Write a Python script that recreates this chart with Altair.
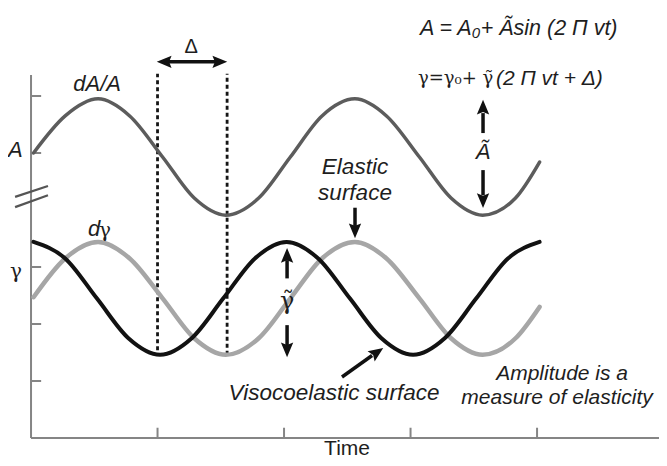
import altair as alt
import pandas as pd

# ---------------- data (time in x-tick units, value in y-tick units) ----------------
t_elastic = [0.02, 0.27, 0.53, 0.78, 1.04, 1.29, 1.54, 1.80, 2.05, 2.30, 2.56, 2.81,
             3.07, 3.32, 3.57, 3.83, 4.02]
dA_A = [5.00, 5.65, 5.95, 5.65, 4.93, 4.21, 3.91, 4.21, 4.93, 5.65, 5.95, 5.65,
        4.93, 4.21, 3.91, 4.21, 4.84]
d_gamma = [2.47, 3.15, 3.44, 3.15, 2.45, 1.75, 1.46, 1.75, 2.45, 3.15, 3.44, 3.15,
           2.45, 1.75, 1.46, 1.75, 2.30]

t_visco = [0.02, 0.27, 0.52, 0.77, 1.02, 1.27, 1.52, 1.77, 2.02, 2.27, 2.52, 2.77,
           3.02, 3.27, 3.52, 3.77, 4.02]
gamma_visco = [3.44, 3.15, 2.45, 1.75, 1.46, 1.75, 2.45, 3.15, 3.44, 3.15, 2.45, 1.75,
               1.46, 1.75, 2.45, 3.15, 3.44]

x_ticks = [1, 2, 3, 4]
y_ticks = [1, 2, 3, 5, 6]
delta_lines = [1.0, 1.55]

X_DOMAIN = [-0.182, 4.964]
Y_DOMAIN = [-0.351, 7.544]
W, H = 651, 450

xs = alt.Scale(domain=X_DOMAIN, nice=False, zero=False)
ys = alt.Scale(domain=Y_DOMAIN, nice=False, zero=False)


def X(f="x"):
    return alt.X(f"{f}:Q", scale=xs, axis=None)


def Y(f="y"):
    return alt.Y(f"{f}:Q", scale=ys, axis=None)


def rules(df, color, width, dash=None):
    kw = dict(color=color, strokeWidth=width, strokeCap="butt")
    if dash:
        kw["strokeDash"] = dash
    return alt.Chart(df).mark_rule(**kw).encode(
        x=X("x"), x2="x2:Q", y=Y("y"), y2="y2:Q")


def curve(t, v, color, width):
    df = pd.DataFrame({"x": t, "y": v})
    return alt.Chart(df).mark_line(color=color, strokeWidth=width,
                                   interpolate="monotone", strokeCap="round").encode(
        x=X(), y=Y())


def texts(df, size, style="normal", font="Liberation Sans", align="center",
          color="#1e1e1e"):
    return alt.Chart(df).mark_text(font=font, fontSize=size,
                                   fontStyle=style, color=color,
                                   align=align, baseline="middle").encode(
        x=X(), y=Y(), text="text:N")


AX = "#858585"
axes_df = pd.DataFrame({"x": [0, 0], "x2": [0, 4.964], "y": [0, 0], "y2": [6.37, 0]})
ticks_df = pd.DataFrame({
    "x": x_ticks + [0] * len(y_ticks),
    "x2": x_ticks + [0.08] * len(y_ticks),
    "y": [0] * len(x_ticks) + y_ticks,
    "y2": [0.18] * len(x_ticks) + y_ticks,
})
break_df = pd.DataFrame({"x": [-0.126, -0.126], "x2": [0.134, 0.134],
                         "y": [4.23, 4.05], "y2": [4.42, 4.26]})
dash_df = pd.DataFrame({"x": delta_lines, "x2": delta_lines,
                        "y": [1.54, 1.46], "y2": [6.39, 6.39]})

shafts_df = pd.DataFrame({
    "x":  [1.06, 3.573, 3.573, 2.024, 2.024, 2.561, 2.458],
    "x2": [1.49, 3.573, 3.573, 2.024, 2.024, 2.561, 2.696],
    "y":  [6.60, 5.35, 4.70, 2.80, 1.98, 4.04, 1.070],
    "y2": [6.60, 5.70, 4.26, 3.12, 1.63, 3.72, 1.447],
})
ARROW = "M0,-1L0.75,0.8L0,0.5L-0.75,0.8Z"
heads_df = pd.DataFrame({
    "x": [1.059, 1.486, 3.573, 3.573, 2.024, 2.024, 2.561, 2.731],
    "y": [6.60, 6.60, 5.79, 4.18, 3.19, 1.56, 3.65, 1.498],
    "angle": [270, 90, 0, 180, 0, 180, 180, 55],
})
heads = alt.Chart(heads_df).mark_point(shape=ARROW, filled=True, color="#111111",
                                       size=270, opacity=1, strokeWidth=0).encode(
    x=X(), y=Y(), angle=alt.Angle("angle:Q", scale=None))

italic_big = pd.DataFrame({
    "x": [2.561, 2.561, 2.395],
    "y": [4.75, 4.30, 0.79],
    "text": ["Elastic", "surface", "Visocoelastic surface"],
})
amplitude = pd.DataFrame({
    "x": [4.198, 4.158],
    "y": [1.13, 0.70],
    "text": ["Amplitude is a", "measure of elasticity"],
})
italic_mid = pd.DataFrame({
    "x": [0.522, -0.123, 3.573, 0.498],
    "y": [6.21, 5.05, 5.02, 3.67],
    "text": ["dA/A", "A", "Ã", "d"],
})
greek = pd.DataFrame({
    "x": [0.585, -0.119],
    "y": [3.64, 2.91],
    "text": ["γ", "γ"],
})
gamma_amp = pd.DataFrame({"x": [2.024], "y": [2.38], "text": ["γ̃"]})
formula_a = pd.DataFrame({"x": [3.075], "y": [7.175], "text": ["A = A₀+ Ãsin (2 Π vt)"]})
formula_g1 = pd.DataFrame({"x": [3.059], "y": [6.30], "text": ["γ=γ₀+ γ̃"]})
formula_g2 = pd.DataFrame({"x": [3.675], "y": [6.30], "text": ["(2 Π vt + Δ)"]})
delta_lbl = pd.DataFrame({"x": [1.265], "y": [6.86], "text": ["Δ"]})
time_lbl = pd.DataFrame({"x": [2.498], "y": [-0.19], "text": ["Time"]})

layers = [
    rules(axes_df, AX, 2),
    rules(ticks_df, AX, 2),
    rules(break_df, "#555555", 2.2),
    rules(dash_df, "#151515", 2.8, dash=[4, 3]),
    curve(t_elastic, d_gamma, "#a6a6a6", 4.5),
    curve(t_elastic, dA_A, "#5c5c5c", 3.5),
    curve(t_visco, gamma_visco, "#121212", 4),
    rules(shafts_df, "#111111", 3.5),
    heads,
    texts(italic_big, 22.5, "italic"),
    texts(amplitude, 21, "italic"),
    texts(italic_mid, 22, "italic"),
    texts(greek, 20, "normal", font="DejaVu Serif"),
    texts(gamma_amp, 24, "normal", font="DejaVu Serif"),
    texts(formula_a, 21.5, "italic", align="left"),
    texts(formula_g1, 18, "normal", font="DejaVu Serif", align="left"),
    texts(formula_g2, 21, "italic", align="left"),
    texts(delta_lbl, 20, "normal"),
    texts(time_lbl, 21, "normal"),
]

chart = alt.layer(*layers).properties(
    width=W, height=H, padding=0,
    autosize=alt.AutoSizeParams(type="none"),
    background="white",
).configure_view(stroke=None)

chart.save("out.html", embed_options={"renderer": "svg", "actions": False})
